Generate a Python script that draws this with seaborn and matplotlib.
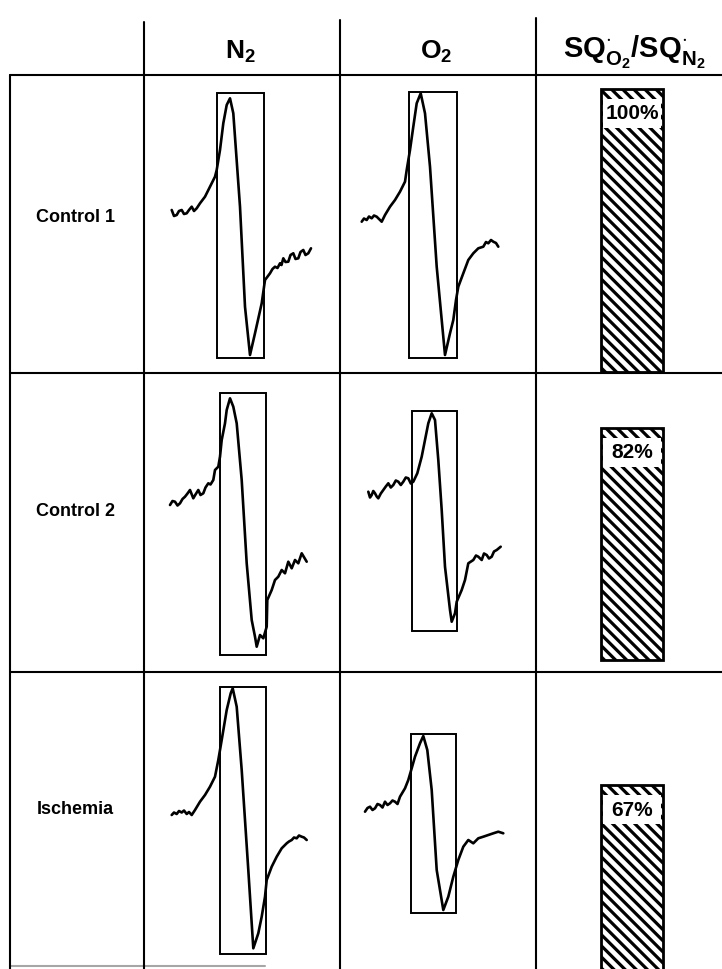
import numpy as np
import pandas as pd
import matplotlib
matplotlib.use("Agg")
import matplotlib.pyplot as plt
import seaborn as sns
from matplotlib.patches import Rectangle
from matplotlib.lines import Line2D

sns.set_theme(style="white")
plt.rcParams["font.family"] = ["Liberation Sans", "DejaVu Sans"]
plt.rcParams["mathtext.fontset"] = "custom"
plt.rcParams["mathtext.rm"] = "Liberation Sans:bold"
plt.rcParams["mathtext.bf"] = "Liberation Sans:bold"
plt.rcParams["mathtext.it"] = "Liberation Sans:bold"
plt.rcParams["hatch.linewidth"] = 2.3

# ---------------- data ----------------
conditions = ["Control 1", "Control 2", "Ischemia"]
column_titles = [r"$\mathbf{N_2}$", r"$\mathbf{O_2}$",
                 r"$\mathbf{SQ^{\cdot}_{O_2}/SQ^{\cdot}_{N_2}}$"]
ratio_pct = [100, 82, 67]

# EPR traces (field offset, signal amplitude; arbitrary units)
n2_c1_field = [27.7, 30, 32.7, 35, 37.7, 40, 42.7, 45, 47.7, 50, 52.7, 56, 61, 66, 71, 72.7, 76, 79.3, 82.7, 86,
               89.3, 96, 101, 106, 111, 117.7, 121, 126, 128.5, 131, 133.5, 136, 137.5, 139.3, 141.5, 144.3,
               146.5, 149.3, 151.5, 154.3, 156.5, 159.3, 161.5, 164.3, 167]
n2_c1_signal = [14, 8, 9, 13, 14, 10, 10.7, 14, 17.3, 13, 15.7, 20.7, 27.3, 37.3, 47.3, 54, 74, 100.7, 119, 125.7,
                110.7, 17.3, -82.7, -131, -109.3, -79.3, -56, -49.3, -45, -42.7, -44, -39.3, -41, -34.3, -38,
                -37.7, -31, -29.3, -35, -34.3, -28, -26, -31, -29.3, -24.3]
n2_c1_window = [72.7, 120.3, -134.3, 130.7]

n2_c2_field = [26, 28.5, 31, 33.5, 36, 38.5, 41, 43.5, 46, 49.3, 51.5, 54.3, 56.5, 59.3, 61.5, 64.3, 66.5, 69.3,
               71, 74.3, 76, 77.7, 81, 82.7, 86, 89.3, 92.7, 97.7, 102.7, 107.7, 111, 112.7, 116, 119.3, 122.7,
               123.3, 127.7, 131, 134.3, 137.7, 141, 144.3, 147.7, 151, 154.3, 157.7, 162.7]
n2_c2_signal = [17.5, 21.5, 20.8, 17, 19.2, 23.5, 25.8, 29, 32.5, 24.2, 28, 32.5, 27.5, 29.2, 35, 39.2, 38, 42.5,
                52.5, 55.8, 65.8, 82.5, 99.2, 112.5, 124.2, 115.8, 99.2, 42.5, -40.8, -97.5, -114.2, -124.2,
                -112.5, -115.8, -104.2, -77.5, -67.5, -57.5, -54.2, -47.5, -50.8, -39.2, -45.8, -37.5, -40.8,
                -30.8, -39.2]
n2_c2_window = [76, 122, -132.5, 129.8]

n2_is_field = [27.7, 30, 32.7, 35, 37.7, 40, 42.7, 45, 47.7, 51, 56, 61, 66, 71, 74.3, 77.7, 82.7, 86.7, 88.7,
               92.7, 97.7, 104.3, 109.3, 114.3, 117.7, 121, 122.7, 127.7, 132.7, 137.7, 142.7, 145, 147.7, 150,
               152.7, 155, 157.7, 160, 162.7]
n2_is_signal = [5.5, 8, 6.5, 9.5, 8, 10, 6.5, 8.5, 5.5, 10.5, 18.8, 25.5, 33.8, 43.8, 60.5, 80.5, 110.5, 127.2,
                132.2, 113.8, 50.5, -49.5, -127.8, -112.8, -96.2, -76.2, -59.5, -46.2, -36.2, -27.8, -22.8, -21,
                -19.5, -17, -17.8, -15, -16.2, -17, -19.5]
n2_is_window = [76, 122, -133.5, 133.2]

o2_c1_field = [21.7, 24, 26.7, 29, 31.7, 34, 36.7, 39, 41.7, 45, 50, 55, 60, 65, 66.7, 70, 73.3, 76.7, 80.7, 85,
               90, 96.7, 105, 110, 113.3, 116, 118.3, 123.3, 128.3, 133.3, 138.3, 143.3, 146, 148.3, 151, 153.3,
               156, 158.3]
o2_c1_signal = [2.3, 5.5, 4, 7.5, 5.7, 8.5, 7.3, 5, 2.3, 9, 17.3, 24, 32.3, 42.3, 54, 74, 97.3, 120.7, 130.7,
                110.7, 57.3, -42.7, -131, -109.3, -96, -76, -62.7, -49.3, -36, -29.3, -24.3, -22.7, -18, -19.3,
                -16, -17.7, -19, -22.7]
o2_c1_window = [69.3, 116.7, -134.3, 132.3]

o2_c2_field = [28.3, 30, 31.7, 33.3, 35, 36.7, 38.3, 40.8, 43.3, 45.8, 48.3, 50.8, 53.3, 55.8, 58.3, 60.8, 63.3,
               65.8, 68.3, 70.8, 73.3, 77.3, 81.7, 85, 88.3, 91.7, 95, 98.3, 101.7, 105, 110, 111.7, 115, 116.7,
               121.7, 125, 128.3, 133.3, 136, 138.3, 141.7, 144, 146.7, 149, 151.7, 154, 156.7, 160.7]
o2_c2_signal = [30.8, 25, 27.5, 31.5, 29.2, 26, 24.2, 29, 32.5, 36, 39.2, 35, 37.5, 42, 40.8, 37.5, 40.8, 45,
                44.2, 39, 40.8, 49.2, 65.8, 82.5, 99.2, 109.2, 102.5, 62.5, 12.5, -44.2, -87.5, -99.2, -90.8,
                -79.2, -67.5, -57.5, -40.8, -37.5, -33, -34.2, -37.5, -31, -32.5, -36, -34.2, -29, -27.5, -24.2]
o2_c2_window = [71.7, 117.3, -108.2, 111.8]

o2_is_field = [25, 27.5, 30, 32.5, 35, 37.5, 40, 42.5, 45, 47.5, 50, 52.5, 55, 57.5, 60, 65, 68.3, 71.7, 75, 80,
               83.3, 87.3, 91.7, 96.7, 103.3, 108.3, 113.3, 118.3, 123.3, 128.3, 133.3, 138.3, 143.3, 148.3,
               153.3, 158.3, 163.3]
o2_is_signal = [8.8, 12.5, 13.8, 10.5, 12.2, 16.5, 15.5, 13, 18.8, 15.5, 17.2, 20, 18.8, 16.5, 23.8, 32.2, 40.5,
                52.2, 63.8, 77.2, 84.5, 70.5, 30.5, -49.5, -89.5, -76.2, -56.2, -39.5, -26.2, -19.5, -22.8,
                -17.8, -16.2, -14.5, -12.8, -11.2, -12.8]
o2_is_window = [70.7, 116, -92.8, 86.5]

traces = [
    [(n2_c1_field, n2_c1_signal, n2_c1_window), (o2_c1_field, o2_c1_signal, o2_c1_window)],
    [(n2_c2_field, n2_c2_signal, n2_c2_window), (o2_c2_field, o2_c2_signal, o2_c2_window)],
    [(n2_is_field, n2_is_signal, n2_is_window), (o2_is_field, o2_is_signal, o2_is_window)],
]

# ---------------- layout ----------------
W, H = 722, 969
fig = plt.figure(figsize=(W / 100, H / 100), dpi=100)
fig.patch.set_facecolor("white")


def rect(x0, y0, x1, y1):
    return [x0 / W, 1 - y1 / H, (x1 - x0) / W, (y1 - y0) / H]


col_edges = [10, 144, 340, 536, 722]
row_edges = [75, 373, 672, 969]


def hline(y, x0, x1, **kw):
    fig.add_artist(Line2D([x0 / W, x1 / W], [1 - y / H, 1 - y / H], color="black", lw=1.5, **kw))


def vline(x, y0, y1, **kw):
    fig.add_artist(Line2D([x / W, x / W], [1 - y0 / H, 1 - y1 / H], color="black", lw=1.5, **kw))


# table rules
hline(75, 10, 722)
hline(373, 10, 722)
hline(672, 10, 722)
hline(966, 10, 265, alpha=0.35)
vline(10, 75, 969)
vline(144, 22, 969)
vline(340, 20, 969)
vline(536, 18, 969)

# headers
header_x = [240, 436, 634]
header_size = [19, 19, 21]
for tx, t, fs in zip(header_x, column_titles, header_size):
    fig.text(tx / W, 1 - 52 / H, t, ha="center", va="center", fontsize=fs, color="black")

# row labels
label_y = [218, 512, 810]
for ly, c in zip(label_y, conditions):
    fig.text(75 / W, 1 - ly / H, c, ha="center", va="center", fontsize=13,
             fontweight="bold", color="black")

# EPR trace panels
for r in range(3):
    h = row_edges[r + 1] - row_edges[r]
    for c in range(2):
        x0, x1 = col_edges[c + 1], col_edges[c + 2]
        ax = fig.add_axes(rect(x0, row_edges[r], x1, row_edges[r + 1]))
        fld, sig, win = traces[r][c]
        df = pd.DataFrame({"field": fld, "signal": sig})
        sns.lineplot(data=df, x="field", y="signal", sort=False, estimator=None,
                     color="black", lw=1.9, ax=ax)
        ax.add_patch(Rectangle((win[0], win[2]), win[1] - win[0], win[3] - win[2],
                               fill=False, ec="black", lw=1.4))
        ax.set_xlim(0, x1 - x0)
        ax.set_ylim(-h / 2, h / 2)
        ax.axis("off")

# ratio bars
bar_base = [372, 660, 975]
full_h = 283
for r in range(3):
    base = bar_base[r]
    ax = fig.add_axes(rect(601, base - full_h, 663, base))
    dfb = pd.DataFrame({"cond": [conditions[r]], "pct": [ratio_pct[r]]})
    sns.barplot(data=dfb, x="cond", y="pct", color="white", width=1.0, ax=ax,
                edgecolor="black", linewidth=2.0, hatch="\\\\\\", saturation=1)
    for p in ax.patches:
        p.set_clip_on(False)
        p.set_facecolor("white")
    v = ratio_pct[r]
    ax.add_patch(Rectangle((-0.46, v - 13.8), 0.92, 10.4, fc="white", ec="none", zorder=5))
    ax.text(0, v - 8.7, f"{v}%", ha="center", va="center", fontsize=15,
            fontweight="bold", color="black", zorder=6)
    ax.set_xlim(-0.5, 0.5)
    ax.set_ylim(0, 100)
    ax.axis("off")

fig.savefig("out.png", dpi=100, facecolor="white")
